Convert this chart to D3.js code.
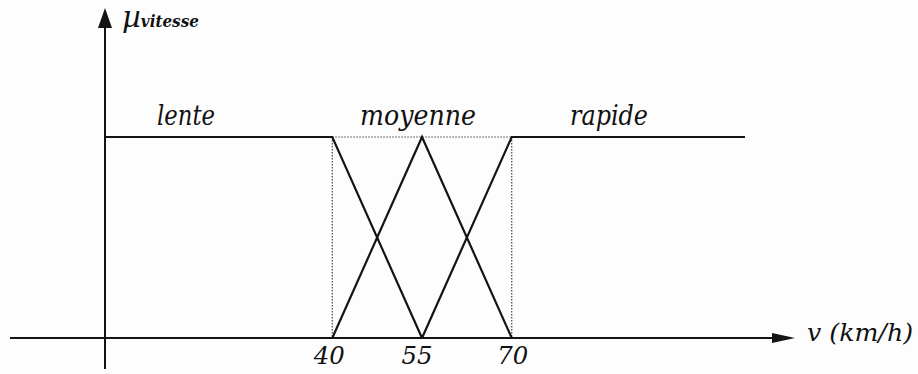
<!DOCTYPE html>
<html>
<head>
<meta charset="utf-8">
<script src="https://cdn.jsdelivr.net/npm/d3@7"></script>
<style>
  html, body { margin: 0; padding: 0; background: #fdfdfd; }
  svg { display: block; }
  text { font-family: "DejaVu Serif", "Liberation Serif", serif; font-style: italic; fill: #111; }
</style>
</head>
<body>
<svg id="chart" width="918" height="374"></svg>
<script>
// Fuzzy partition of the speed variable v (km/h)
const setNames = ["lente", "moyenne", "rapide"];
const universe = [2, 109];            // extent of v drawn along the axis
const breakpoints = [40, 55, 70];     // tick values
const tickLabels = ["40", "55", "70"];

// membership functions as (v, mu) breakpoints
const lenteV = [2, 40, 55];
const lenteMu = [1, 1, 0];
const moyenneV = [40, 55, 70];
const moyenneMu = [0, 1, 0];
const rapideV = [55, 70, 109];
const rapideMu = [0, 1, 1];

const svg = d3.select("#chart");

const x = d3.scaleLinear().domain(universe).range([105, 745]);
const y = d3.scaleLinear().domain([0, 1]).range([338, 137]);

const ink = "#141414";

// axes
const axisG = svg.append("g");
axisG.append("line")
  .attr("x1", 10).attr("x2", 780)
  .attr("y1", y(0)).attr("y2", y(0))
  .attr("stroke", ink).attr("stroke-width", 2);
axisG.append("path")
  .attr("d", `M795,${y(0)} L772,${y(0) - 5} L772,${y(0) + 5} Z`)
  .attr("fill", ink);

const x0 = x(universe[0]);
axisG.append("line")
  .attr("x1", x0).attr("x2", x0)
  .attr("y1", 22).attr("y2", 369)
  .attr("stroke", ink).attr("stroke-width", 2);
axisG.append("path")
  .attr("d", `M${x0},8 L${x0 - 7},28 L${x0 + 7},28 Z`)
  .attr("fill", ink);

// dotted guides at the outer breakpoints and between them at mu = 1
const guides = svg.append("g")
  .attr("stroke", "#444").attr("stroke-width", 1.2)
  .attr("stroke-dasharray", "1.5,1.5").attr("fill", "none");
[breakpoints[0], breakpoints[2]].forEach(v => {
  guides.append("line")
    .attr("x1", x(v)).attr("x2", x(v))
    .attr("y1", y(1)).attr("y2", y(0));
});
guides.append("line")
  .attr("x1", x(breakpoints[0])).attr("x2", x(breakpoints[2]))
  .attr("y1", y(1)).attr("y2", y(1));

// membership curves
const line = d3.line().x(d => x(d[0])).y(d => y(d[1]));
const curves = [
  d3.zip(lenteV, lenteMu),
  d3.zip(moyenneV, moyenneMu),
  d3.zip(rapideV, rapideMu)
];
svg.append("g").selectAll("path")
  .data(curves)
  .join("path")
  .attr("d", line)
  .attr("fill", "none")
  .attr("stroke", ink)
  .attr("stroke-width", 2.2)
  .attr("stroke-linejoin", "miter");

// set labels
const labelPos = [
  { cx: 186, w: 58 },
  { cx: 418, w: 116 },
  { cx: 609, w: 78 }
];
svg.append("g").selectAll("text")
  .data(setNames)
  .join("text")
  .attr("x", (d, i) => labelPos[i].cx)
  .attr("y", 125)
  .attr("text-anchor", "middle")
  .attr("font-size", 27)
  .attr("textLength", (d, i) => labelPos[i].w)
  .attr("lengthAdjust", "spacingAndGlyphs")
  .text(d => d);

// tick labels
const tickOffset = [-3, -5, 1];
svg.append("g").selectAll("text")
  .data(breakpoints)
  .join("text")
  .attr("x", (d, i) => x(d) + tickOffset[i])
  .attr("y", 364)
  .attr("text-anchor", "middle")
  .attr("font-size", 24)
  .attr("textLength", 31).attr("lengthAdjust", "spacingAndGlyphs")
  .text((d, i) => tickLabels[i]);

// axis titles
const muT = svg.append("text").attr("x", 122).attr("y", 27);
muT.append("tspan").attr("font-size", 29).text("µ");
muT.append("tspan").attr("font-size", 17).attr("font-weight", "bold")
  .attr("textLength", 58).attr("lengthAdjust", "spacingAndGlyphs").text("vitesse");

svg.append("text")
  .attr("x", 807).attr("y", 341)
  .attr("font-size", 25)
  .attr("textLength", 106).attr("lengthAdjust", "spacingAndGlyphs")
  .text("v (km/h)");
</script>
</body>
</html>
